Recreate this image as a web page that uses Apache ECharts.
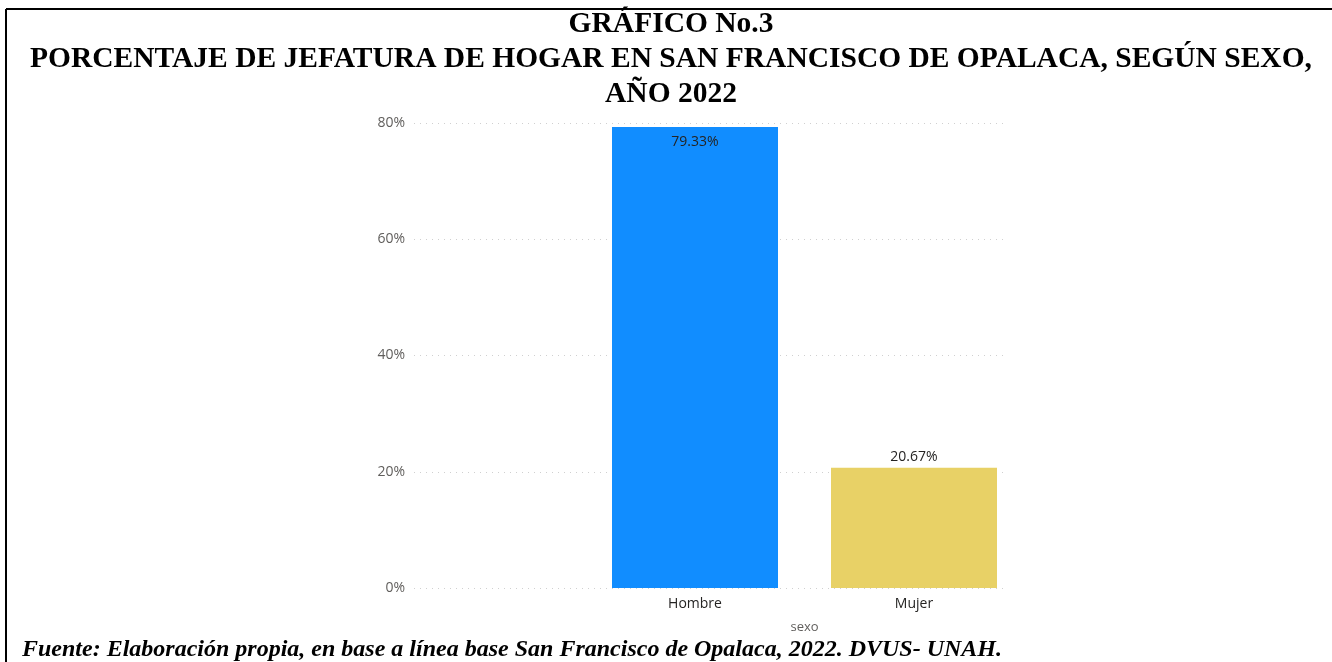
<!DOCTYPE html>
<html>
<head>
<meta charset="utf-8">
<title>Jefatura de hogar</title>
<script src="https://cdn.jsdelivr.net/npm/echarts@6/dist/echarts.min.js"></script>
<style>
  html, body { margin: 0; padding: 0; background: #fff; }
  #main { width: 1332px; height: 662px; }
</style>
</head>
<body>
<div id="main"></div>
<script>
var categories = ['Hombre', 'Mujer'];
var values = [79.33, 20.67];
var barColors = ['#118DFF', '#E8D166'];
var yTicks = [0, 20, 40, 60, 80];

var chartDom = document.getElementById('main');
var myChart = echarts.init(chartDom);
var option;

var labelFont = { fontFamily: 'Open Sans', fontSize: 14, color: '#252423' };

option = {
    animation: false,
    backgroundColor: '#fff',
    graphic: [
        // frame lines (top and left)
        { type: 'line', shape: { x1: 6, y1: 9, x2: 1332, y2: 9 }, style: { stroke: '#000', lineWidth: 2 } },
        { type: 'line', shape: { x1: 6, y1: 9, x2: 6, y2: 662 }, style: { stroke: '#000', lineWidth: 2 } },
        {
            type: 'text',
            x: 671,
            y: 6.5,
            style: {
                text: 'GRÁFICO No.3\nPORCENTAJE DE JEFATURA DE HOGAR EN SAN FRANCISCO DE OPALACA, SEGÚN SEXO,\nAÑO 2022',
                font: 'bold 29.5px "Liberation Serif"',
                lineHeight: 35,
                align: 'center',
                verticalAlign: 'top',
                fill: '#000'
            }
        },
        {
            type: 'text',
            x: 22,
            y: 650,
            style: {
                text: 'Fuente: Elaboración propia, en base a línea base San Francisco de Opalaca, 2022. DVUS- UNAH.',
                font: 'italic bold 24px "Liberation Serif"',
                align: 'left',
                verticalAlign: 'middle',
                fill: '#000'
            }
        }
    ],
    grid: [
        { left: 414, right: 324, top: 123, bottom: 74 },
        { left: 585.5, right: 308.5, top: 123, bottom: 74 }
    ],
    xAxis: [
        { gridIndex: 0, type: 'value', show: false },
        {
            gridIndex: 1,
            type: 'category',
            data: categories,
            axisLine: { show: false },
            axisTick: { show: false },
            axisLabel: { margin: 9, fontFamily: 'Open Sans', fontSize: 14, color: '#252423' },
            name: 'sexo',
            nameLocation: 'middle',
            nameGap: 33,
            nameTextStyle: { fontFamily: 'Open Sans', fontSize: 13, color: '#605E5C' }
        }
    ],
    yAxis: [
        {
            gridIndex: 0,
            type: 'value',
            min: yTicks[0],
            max: yTicks[yTicks.length - 1],
            interval: 20,
            axisLine: { show: false },
            axisTick: { show: false },
            axisLabel: {
                formatter: '{value}%',
                margin: 9,
                fontFamily: 'Open Sans',
                fontSize: 14,
                color: '#605E5C'
            },
            splitLine: { lineStyle: { type: [1, 5], color: '#D0D0D0', width: 1 } }
        },
        {
            gridIndex: 1,
            type: 'value',
            min: yTicks[0],
            max: yTicks[yTicks.length - 1],
            show: false,
            splitLine: { show: false }
        }
    ],
    series: [
        {
            type: 'bar',
            xAxisIndex: 1,
            yAxisIndex: 1,
            barWidth: 166,
            data: values.map(function (v, i) {
                return {
                    value: v,
                    itemStyle: { color: barColors[i] },
                    label: i === 0
                        ? { position: 'insideTop', distance: 8 }
                        : { position: 'top', distance: 4 }
                };
            }),
            label: Object.assign({
                show: true,
                formatter: function (p) { return p.value.toFixed(2) + '%'; }
            }, labelFont)
        }
    ]
};

option && myChart.setOption(option);
</script>
</body>
</html>
